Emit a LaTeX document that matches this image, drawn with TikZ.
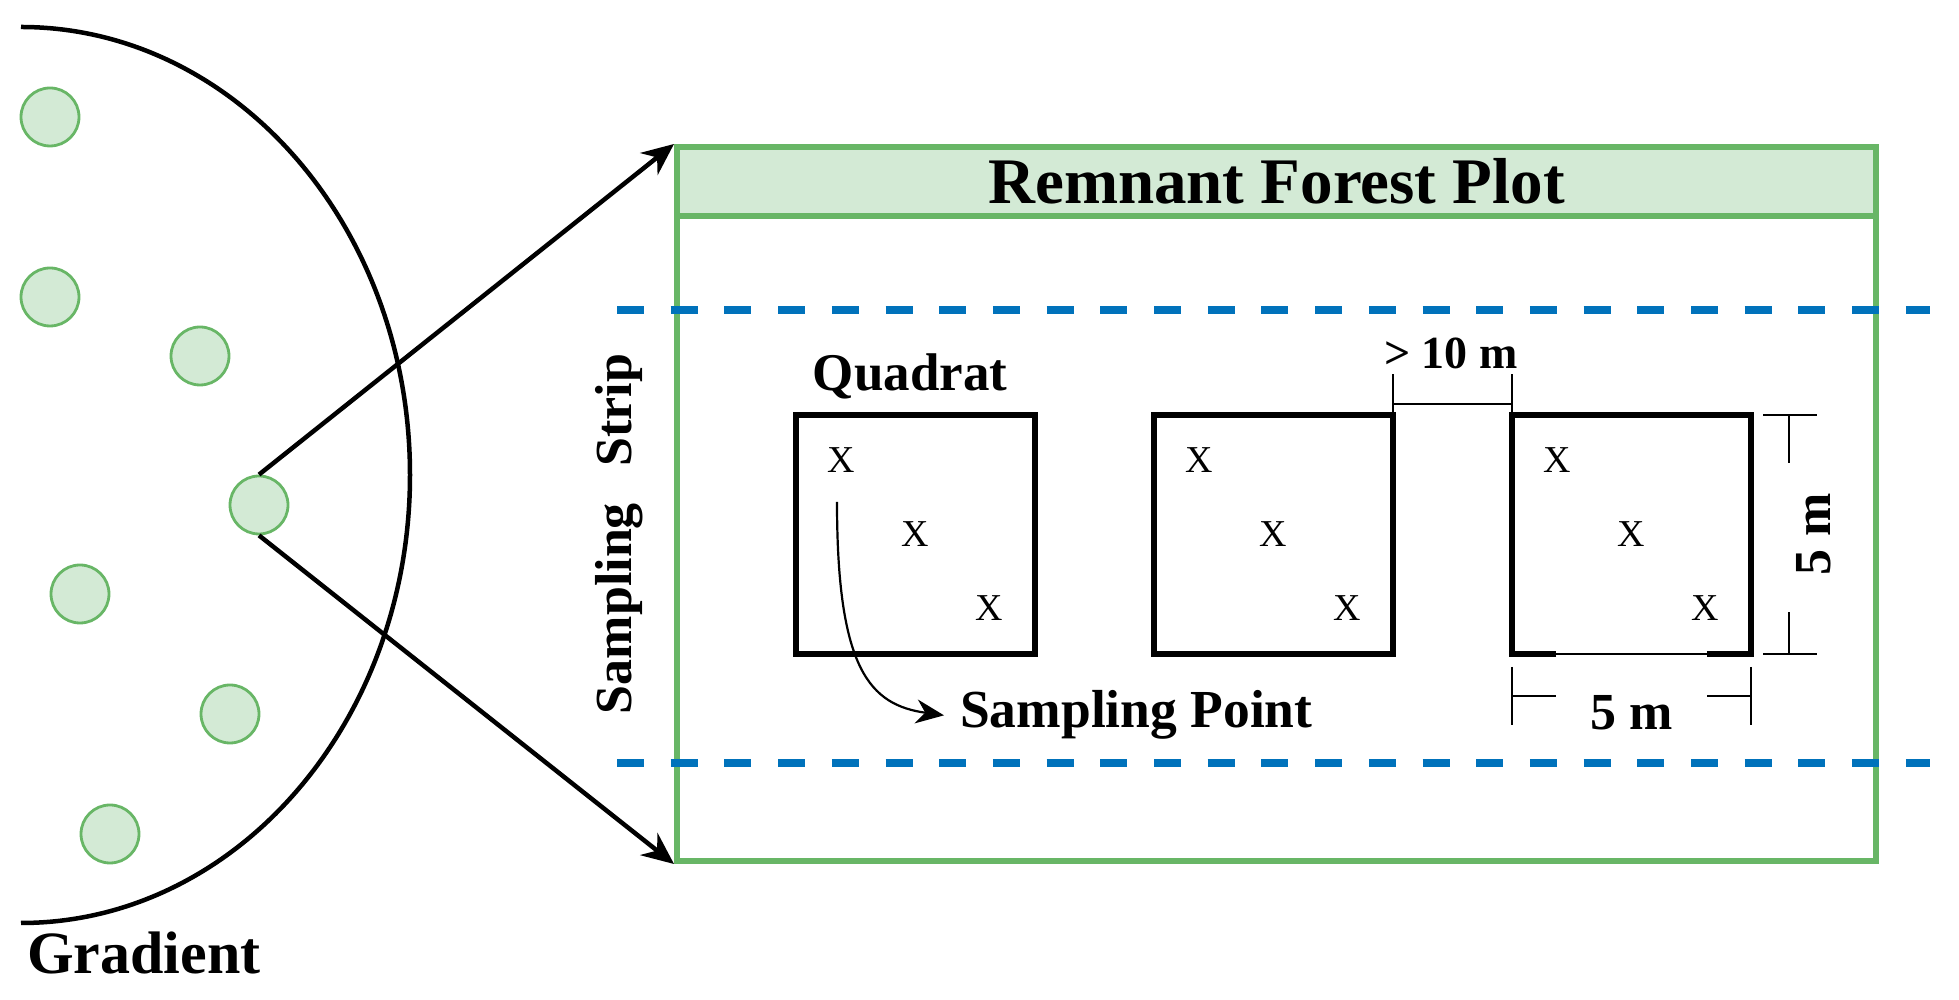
\documentclass[tikz,border=0pt]{standalone}
\usepackage{fontspec}
\setmainfont{Liberation Serif}
\usepackage{tikz}
\usetikzlibrary{arrows.meta,positioning}
\definecolor{plotgreen}{RGB}{104,182,102}
\definecolor{leafgreen}{RGB}{211,234,213}
\definecolor{stripblue}{RGB}{0,114,187}
\newcommand{\pxfont}[1]{\fontsize{#1}{#1}\selectfont}

\begin{document}
\begin{tikzpicture}[x=1pt,y=1pt,tree/.style={circle,draw=plotgreen,fill=leafgreen,line width=2.8pt,minimum size=58pt,inner sep=0pt},quad/.style={draw,line width=5.5pt,minimum size=239pt,inner sep=0pt,outer sep=0pt},lbl/.style={font=\bfseries\pxfont{#1},inner sep=0pt},lbl/.default=52,xmark/.style={font=\pxfont{38},inner sep=0pt},dim/.style={line width=2pt},strip/.style={stripblue,line width=8.5pt,dash pattern=on 27pt off 26.7pt},arr/.style={-{Stealth[length=32pt,width=28pt]},line width=4.5pt},ptarr/.style={-{Stealth[length=28pt,width=24pt]},line width=2.2pt}]
\useasboundingbox (0,0) rectangle (1959,1000);
\draw[line width=4.5pt](21,973) arc[start angle=90,end angle=-90,x radius=389,y radius=448];
\foreach \n/\x/\y in {1/50/883,2/50/703,3/200/644,4/259/495,5/80/406,6/230/286,7/110/166} \node[tree](t\n) at (\x,\y){};
\node[draw=plotgreen,line width=6pt,minimum width=1199pt,minimum height=714pt,inner sep=0pt](plot) at (1276.5,496){};
\node[draw=plotgreen,fill=leafgreen,line width=6pt,minimum width=1199pt,minimum height=69pt,inner sep=0pt,font=\bfseries\pxfont{65}](title) at (1276.5,818.5){Remnant Forest Plot};
\draw[arr](t4.north)--(plot.north west);\draw[arr](t4.south)--(plot.south west);
\draw[strip](617,690)--(1930,690);\draw[strip](617,237)--(1930,237);
\node[lbl=52,rotate=90,anchor=base](striplbl) at (631,466){Sampling\hspace{0.45em} Strip};
\foreach \i/\x in {1/915.5,2/1273.5} \node[quad](q\i) at (\x,465.5){};
\node[quad,draw=none](q3) at (1631.5,465.5){};
\draw[line width=5.5pt]([xshift=44pt]q3.south west)--(q3.south west)--(q3.north west)--(q3.north east)--(q3.south east)--([xshift=-44pt]q3.south east);
\draw[dim]([xshift=44pt]q3.south west)--([xshift=-44pt]q3.south east);
\foreach \i in {1,2,3} \foreach \j/\d in {a/-74,b/0,c/74} \node[xmark](x\i\j) at ([shift={(\d,-\d)}]q\i){X};
\node[lbl=53,anchor=base](quadlbl) at (910,609){Quadrat};
\node[lbl=53.5,anchor=base west](ptlbl) at (960,272){Sampling Point};
\coordinate (ptstart) at (837,498);
\draw[ptarr](ptstart) .. controls (837,330) and (870,295) .. ([xshift=-16pt]ptlbl.west);
\node[lbl=46,anchor=base](gaplbl) at (1451,631){> 10 m};
\draw[dim](q2.north east)--++(0,41);\draw[dim](q3.north west)--++(0,41);\draw[dim]([yshift=11pt]q2.north east)--([yshift=11pt]q3.north west);
\draw[dim]([yshift=-13pt]q3.south west)--++(0,-58);\draw[dim]([yshift=-13pt]q3.south east)--++(0,-58);
\draw[dim]([yshift=-42pt]q3.south west)--++(44,0);\draw[dim]([yshift=-42pt]q3.south east)--++(-44,0);
\node[lbl=52,anchor=base](wlbl) at (1631.5,270){5 m};
\draw[dim]([xshift=12pt]q3.north east)--++(54,0);\draw[dim]([xshift=12pt]q3.south east)--++(54,0);
\draw[dim]([xshift=38pt]q3.north east)--++(0,-48);\draw[dim]([xshift=38pt]q3.south east)--++(0,42);
\node[lbl=52,rotate=90,anchor=base](hlbl) at (1830,465.5){5 m};
\node[lbl=60,anchor=base west](gradlbl) at (27,26){Gradient};
\end{tikzpicture}
\end{document}
